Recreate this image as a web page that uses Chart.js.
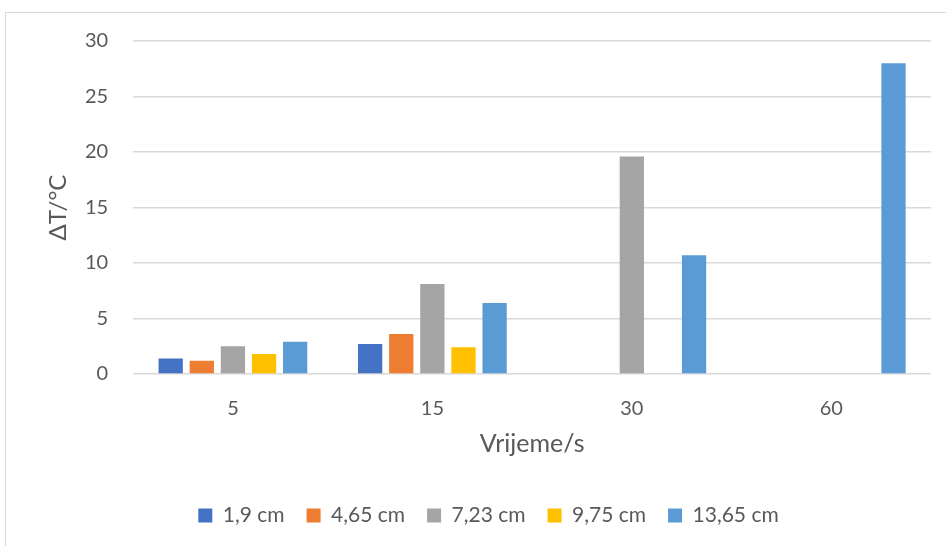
<!DOCTYPE html>
<html>
<head>
<meta charset="utf-8">
<script src="https://cdn.jsdelivr.net/npm/chart.js@4"></script>
<style>
  html, body { margin: 0; padding: 0; background: #fff; }
  #frame {
    position: absolute; left: 5px; top: 12px; width: 945px; height: 540px;
    border: 1px solid #d9d9d9; box-sizing: border-box;
  }
  #wrap { position: absolute; left: 0; top: 0; width: 946px; height: 546px; }
</style>
</head>
<body>
<div id="frame"></div>
<div id="wrap"><canvas id="chart"></canvas></div>
<script>
// Categories (time in seconds) and series (distance)
const categories = ['5', '15', '30', '60'];
const seriesNames = ['1,9 cm', '4,65 cm', '7,23 cm', '9,75 cm', '13,65 cm'];
const seriesColors = ['#4472C4', '#ED7D31', '#A5A5A5', '#FFC000', '#5B9BD5'];

// ΔT values per series, one per category
const s19 = [1.4, 2.7, null, null];
const s465 = [1.2, 3.6, null, null];
const s723 = [2.5, 8.1, 19.6, null];
const s975 = [1.8, 2.4, null, null];
const s1365 = [2.9, 6.4, 10.7, 28.0];

const yTicks = [0, 5, 10, 15, 20, 25, 30];

const allSeries = [s19, s465, s723, s975, s1365];
const textColor = '#595959';
const fontFamily = 'Lato, "Open Sans", sans-serif';

const ctx = document.getElementById('chart').getContext('2d');
new Chart(ctx, {
  type: 'bar',
  data: {
    labels: categories,
    datasets: allSeries.map((vals, i) => ({
      label: seriesNames[i],
      data: vals,
      backgroundColor: seriesColors[i],
      borderWidth: 0,
      categoryPercentage: 0.78,
      barPercentage: 0.78,
    }))
  },
  options: {
    responsive: true,
    maintainAspectRatio: false,
    animation: false,
    layout: { padding: { left: 46, right: 15, top: 41, bottom: 10 } },
    scales: {
      x: {
        grid: { display: false },
        border: { display: false },
        ticks: { color: textColor, font: { family: fontFamily, size: 20, lineHeight: 1 }, padding: 17 },
        title: {
          display: true, text: 'Vrijeme/s', color: textColor,
          font: { family: fontFamily, size: 25, lineHeight: 1 }, padding: { top: -5, bottom: 27 }
        }
      },
      y: {
        min: 0, max: 30,
        afterBuildTicks: (axis) => { axis.ticks = yTicks.map(v => ({ value: v })); },
        grid: { color: '#d9d9d9', lineWidth: 1.5, drawTicks: false },
        border: { display: false },
        ticks: { color: textColor, font: { family: fontFamily, size: 20 }, padding: 25 },
        title: {
          display: true, text: 'ΔT/°C', color: textColor,
          font: { family: fontFamily, size: 24, lineHeight: 1 }, padding: { top: 0, bottom: -10 }
        }
      }
    },
    plugins: {
      legend: {
        position: 'bottom',
        labels: {
          color: textColor, boxWidth: 14, boxHeight: 14, padding: 22,
          font: { family: fontFamily, size: 21 }
        }
      },
      tooltip: { enabled: false }
    }
  }
});
</script>
</body>
</html>
